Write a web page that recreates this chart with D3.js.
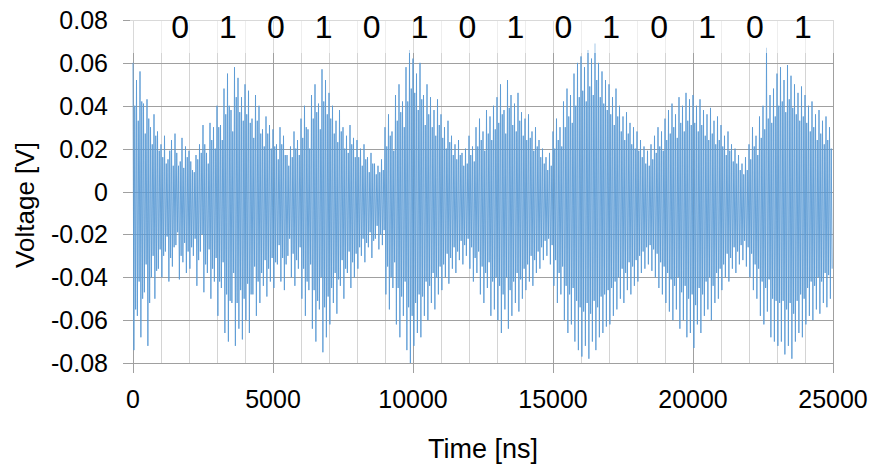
<!DOCTYPE html>
<html>
<head>
<meta charset="utf-8">
<script src="https://cdn.jsdelivr.net/npm/d3@7/dist/d3.min.js"></script>
<style>
  html, body { margin: 0; padding: 0; background: #fff; }
  svg { display: block; }
  text { font-family: "Liberation Sans", Arial, sans-serif; fill: #000; }
</style>
</head>
<body>
<svg id="chart" width="872" height="466"></svg>
<script>
// Received signal, per carrier cycle (V): a full swing (peak, trough)
// followed by a weaker swing (innerPeaks, innerTroughs)
const cycleNs = 125;
const peaks = [
  0.060, 0.052, 0.056, 0.041, 0.043, 0.030, 0.036, 0.028,
  0.022, 0.026, 0.015, 0.024, 0.027, 0.012, 0.025, 0.021,
  0.019, 0.010, 0.017, 0.022, 0.031, 0.018, 0.032, 0.030,
  0.040, 0.031, 0.048, 0.055, 0.038, 0.058, 0.053, 0.044,
  0.050, 0.047, 0.034, 0.045, 0.040, 0.029, 0.035, 0.031,
  0.029, 0.022, 0.030, 0.026, 0.017, 0.021, 0.028, 0.024,
  0.034, 0.040, 0.029, 0.045, 0.050, 0.041, 0.057, 0.052,
  0.046, 0.040, 0.033, 0.038, 0.030, 0.026, 0.031, 0.025,
  0.024, 0.020, 0.022, 0.016, 0.018, 0.013, 0.012, 0.015,
  0.030, 0.036, 0.028, 0.045, 0.050, 0.042, 0.058, 0.066,
  0.062, 0.055, 0.060, 0.045, 0.050, 0.044, 0.038, 0.043,
  0.036, 0.030, 0.033, 0.026, 0.022, 0.024, 0.018, 0.020,
  0.026, 0.021, 0.030, 0.034, 0.028, 0.038, 0.035, 0.040,
  0.044, 0.050, 0.038, 0.052, 0.045, 0.041, 0.046, 0.037,
  0.034, 0.036, 0.028, 0.030, 0.024, 0.020, 0.016, 0.018,
  0.028, 0.034, 0.030, 0.042, 0.048, 0.045, 0.055, 0.060,
  0.063, 0.058, 0.066, 0.062, 0.069, 0.060, 0.056, 0.052,
  0.050, 0.044, 0.048, 0.040, 0.035, 0.037, 0.032, 0.030,
  0.028, 0.024, 0.021, 0.019, 0.022, 0.026, 0.030, 0.028,
  0.034, 0.038, 0.041, 0.036, 0.044, 0.040, 0.046, 0.043,
  0.045, 0.040, 0.043, 0.038, 0.036, 0.039, 0.033, 0.035,
  0.031, 0.026, 0.028, 0.022, 0.020, 0.017, 0.013, 0.016,
  0.022, 0.030, 0.026, 0.035, 0.040, 0.067, 0.045, 0.048,
  0.055, 0.058, 0.052, 0.059, 0.054, 0.050, 0.046, 0.049,
  0.045, 0.040, 0.042, 0.036, 0.038, 0.033, 0.035, 0.030
];
const troughs = [
  -0.074, -0.058, -0.068, -0.047, -0.072, -0.040, -0.050, -0.036,
  -0.040, -0.028, -0.042, -0.035, -0.025, -0.041, -0.033, -0.038,
  -0.036, -0.030, -0.044, -0.028, -0.047, -0.038, -0.050, -0.042,
  -0.058, -0.045, -0.066, -0.070, -0.052, -0.072, -0.064, -0.069,
  -0.060, -0.066, -0.048, -0.058, -0.052, -0.044, -0.049, -0.042,
  -0.045, -0.034, -0.042, -0.046, -0.030, -0.040, -0.044, -0.036,
  -0.050, -0.058, -0.046, -0.064, -0.070, -0.055, -0.075, -0.068,
  -0.062, -0.052, -0.057, -0.044, -0.050, -0.038, -0.045, -0.040,
  -0.036, -0.030, -0.033, -0.026, -0.031, -0.022, -0.027, -0.025,
  -0.048, -0.055, -0.045, -0.062, -0.068, -0.058, -0.074, -0.080,
  -0.072, -0.066, -0.068, -0.058, -0.060, -0.052, -0.055, -0.048,
  -0.046, -0.040, -0.043, -0.036, -0.038, -0.032, -0.034, -0.030,
  -0.036, -0.042, -0.038, -0.048, -0.052, -0.045, -0.058, -0.055,
  -0.060, -0.066, -0.055, -0.064, -0.058, -0.052, -0.056, -0.050,
  -0.046, -0.042, -0.044, -0.038, -0.036, -0.032, -0.030, -0.034,
  -0.044, -0.052, -0.048, -0.060, -0.066, -0.062, -0.070, -0.074,
  -0.077, -0.072, -0.078, -0.070, -0.074, -0.068, -0.066, -0.063,
  -0.062, -0.058, -0.055, -0.050, -0.052, -0.046, -0.048, -0.044,
  -0.042, -0.038, -0.036, -0.034, -0.037, -0.040, -0.045, -0.048,
  -0.052, -0.056, -0.060, -0.055, -0.064, -0.060, -0.068, -0.066,
  -0.073, -0.062, -0.066, -0.058, -0.055, -0.060, -0.052, -0.050,
  -0.046, -0.040, -0.042, -0.036, -0.038, -0.034, -0.032, -0.035,
  -0.040, -0.046, -0.050, -0.058, -0.062, -0.056, -0.068, -0.070,
  -0.072, -0.070, -0.076, -0.072, -0.078, -0.070, -0.066, -0.068,
  -0.062, -0.058, -0.060, -0.055, -0.057, -0.052, -0.054, -0.050
];
const innerPeaks = [
  0.040, 0.033, 0.042, 0.027, 0.034, 0.022, 0.026, 0.019,
  0.016, 0.013, 0.019, 0.012, 0.018, 0.014, 0.011, 0.016,
  0.014, 0.009, 0.015, 0.018, 0.022, 0.013, 0.024, 0.020,
  0.030, 0.024, 0.036, 0.040, 0.028, 0.044, 0.037, 0.033,
  0.036, 0.032, 0.025, 0.033, 0.027, 0.021, 0.027, 0.020,
  0.021, 0.015, 0.022, 0.017, 0.012, 0.016, 0.020, 0.017,
  0.025, 0.030, 0.020, 0.034, 0.037, 0.029, 0.042, 0.036,
  0.034, 0.027, 0.023, 0.028, 0.020, 0.018, 0.022, 0.016,
  0.016, 0.012, 0.015, 0.009, 0.013, 0.008, 0.009, 0.010,
  0.021, 0.026, 0.019, 0.033, 0.037, 0.030, 0.042, 0.048,
  0.046, 0.038, 0.043, 0.031, 0.036, 0.030, 0.026, 0.031,
  0.025, 0.020, 0.023, 0.017, 0.015, 0.017, 0.012, 0.013,
  0.017, 0.014, 0.021, 0.024, 0.019, 0.027, 0.024, 0.029,
  0.032, 0.036, 0.027, 0.039, 0.031, 0.028, 0.033, 0.026,
  0.024, 0.025, 0.019, 0.021, 0.016, 0.013, 0.010, 0.012,
  0.020, 0.024, 0.021, 0.030, 0.035, 0.032, 0.040, 0.044,
  0.047, 0.042, 0.049, 0.045, 0.052, 0.044, 0.041, 0.038,
  0.036, 0.031, 0.035, 0.028, 0.024, 0.027, 0.022, 0.020,
  0.019, 0.016, 0.013, 0.012, 0.015, 0.018, 0.021, 0.019,
  0.024, 0.027, 0.030, 0.025, 0.032, 0.028, 0.033, 0.031,
  0.032, 0.028, 0.031, 0.026, 0.024, 0.027, 0.022, 0.024,
  0.021, 0.017, 0.019, 0.014, 0.013, 0.010, 0.008, 0.010,
  0.015, 0.021, 0.017, 0.025, 0.029, 0.034, 0.032, 0.035,
  0.040, 0.042, 0.037, 0.043, 0.039, 0.036, 0.033, 0.035,
  0.032, 0.028, 0.030, 0.024, 0.027, 0.022, 0.024, 0.020
];
const innerTroughs = [
  -0.055, -0.042, -0.050, -0.034, -0.052, -0.030, -0.037, -0.027,
  -0.030, -0.021, -0.031, -0.026, -0.019, -0.030, -0.024, -0.028,
  -0.026, -0.022, -0.032, -0.020, -0.034, -0.027, -0.036, -0.031,
  -0.042, -0.033, -0.048, -0.051, -0.038, -0.052, -0.046, -0.050,
  -0.043, -0.048, -0.035, -0.042, -0.038, -0.032, -0.036, -0.031,
  -0.033, -0.025, -0.031, -0.034, -0.022, -0.029, -0.032, -0.026,
  -0.036, -0.042, -0.034, -0.046, -0.051, -0.040, -0.054, -0.049,
  -0.045, -0.038, -0.041, -0.032, -0.036, -0.028, -0.033, -0.029,
  -0.026, -0.022, -0.024, -0.019, -0.023, -0.016, -0.020, -0.018,
  -0.035, -0.040, -0.033, -0.045, -0.049, -0.042, -0.054, -0.058,
  -0.052, -0.048, -0.049, -0.042, -0.044, -0.038, -0.040, -0.035,
  -0.034, -0.029, -0.031, -0.026, -0.028, -0.023, -0.025, -0.022,
  -0.026, -0.031, -0.028, -0.035, -0.038, -0.033, -0.042, -0.040,
  -0.044, -0.048, -0.040, -0.046, -0.042, -0.038, -0.041, -0.036,
  -0.034, -0.030, -0.032, -0.028, -0.026, -0.023, -0.022, -0.025,
  -0.032, -0.038, -0.035, -0.044, -0.048, -0.045, -0.051, -0.054,
  -0.056, -0.052, -0.057, -0.051, -0.054, -0.049, -0.048, -0.046,
  -0.045, -0.042, -0.040, -0.036, -0.038, -0.033, -0.035, -0.032,
  -0.030, -0.028, -0.026, -0.025, -0.027, -0.029, -0.033, -0.035,
  -0.038, -0.041, -0.044, -0.040, -0.047, -0.044, -0.050, -0.048,
  -0.053, -0.045, -0.048, -0.042, -0.040, -0.044, -0.038, -0.036,
  -0.034, -0.029, -0.031, -0.026, -0.028, -0.025, -0.023, -0.026,
  -0.029, -0.034, -0.036, -0.042, -0.045, -0.041, -0.050, -0.051,
  -0.052, -0.051, -0.055, -0.052, -0.057, -0.051, -0.048, -0.050,
  -0.045, -0.042, -0.044, -0.040, -0.042, -0.038, -0.039, -0.036
];

// Axis ticks
const xTicks = [0, 5000, 10000, 15000, 20000, 25000];
const xMinorTicks = d3.range(0, 25001, 1000);
const yTicks = [-0.08, -0.06, -0.04, -0.02, 0, 0.02, 0.04, 0.06, 0.08];
const yTickLabels = ["-0.08", "-0.06", "-0.04", "-0.02", "0", "0.02", "0.04", "0.06", "0.08"];

// Transmitted bit pattern written across the top
const bitLabels = ["0", "1", "0", "1", "0", "1", "0", "1", "0", "1", "0", "1", "0", "1"];
const bitStartNs = 1680;
const bitSpacingNs = 1711;

const svg = d3.select("#chart");
const plot = { left: 133, right: 833, top: 20, bottom: 363 };

const x = d3.scaleLinear().domain([0, 25000]).range([plot.left, plot.right]);
const y = d3.scaleLinear().domain([-0.08, 0.08]).range([plot.bottom, plot.top]);

// Minor vertical gridlines (every 1000 ns)
svg.append("g")
  .selectAll("line")
  .data(xMinorTicks.filter(t => t % 5000 !== 0))
  .join("line")
  .attr("x1", d => x(d) + 0.5).attr("x2", d => x(d) + 0.5)
  .attr("y1", plot.top).attr("y2", plot.bottom)
  .attr("stroke", "#d4d4d4").attr("stroke-width", 1);

// Major vertical gridlines with ticks below the axis
svg.append("g")
  .selectAll("line")
  .data(xTicks)
  .join("line")
  .attr("x1", d => x(d) + 0.5).attr("x2", d => x(d) + 0.5)
  .attr("y1", plot.top).attr("y2", plot.bottom + 10)
  .attr("stroke", "#a0a0a0").attr("stroke-width", 1);

// Horizontal gridlines, extended a little to the left as tick marks
svg.append("g")
  .selectAll("line")
  .data(yTicks)
  .join("line")
  .attr("x1", plot.left - 10).attr("x2", plot.right)
  .attr("y1", d => Math.round(y(d)) + 0.5).attr("y2", d => Math.round(y(d)) + 0.5)
  .attr("stroke", "#a0a0a0").attr("stroke-width", 1);

// Signal trace: four samples per carrier cycle
const samples = [];
peaks.forEach((p, i) => {
  const t0 = i * cycleNs;
  samples.push({ t: t0, v: p });
  samples.push({ t: t0 + cycleNs / 4, v: troughs[i] });
  samples.push({ t: t0 + cycleNs / 2, v: innerPeaks[i] });
  samples.push({ t: t0 + 3 * cycleNs / 4, v: innerTroughs[i] });
});

const line = d3.line().x(d => x(d.t)).y(d => y(d.v));
svg.append("path")
  .datum(samples)
  .attr("d", line)
  .attr("fill", "none")
  .attr("stroke", "#5b9bd5")
  .attr("stroke-width", 0.9)
  .attr("stroke-opacity", 1)
  .attr("stroke-linejoin", "miter");

// Translucent box behind the bit labels
svg.append("rect")
  .attr("x", plot.left - 3).attr("y", 14)
  .attr("width", plot.right - plot.left + 6).attr("height", 39)
  .attr("fill", "#fff").attr("fill-opacity", 0.6);

svg.append("g")
  .selectAll("text")
  .data(bitLabels)
  .join("text")
  .attr("x", (d, i) => x(bitStartNs + i * bitSpacingNs))
  .attr("y", 38)
  .attr("text-anchor", "middle")
  .style("font-size", "32px")
  .text(d => d);

// Y tick labels
svg.append("g")
  .selectAll("text")
  .data(yTicks)
  .join("text")
  .attr("x", 108)
  .attr("y", d => y(d) + 9)
  .attr("text-anchor", "end")
  .style("font-size", "25px")
  .text((d, i) => yTickLabels[i]);

// X tick labels
svg.append("g")
  .selectAll("text")
  .data(xTicks)
  .join("text")
  .attr("x", d => x(d))
  .attr("y", 408)
  .attr("text-anchor", "middle")
  .style("font-size", "25px")
  .text(d => d);

// Axis titles
svg.append("text")
  .attr("x", 483).attr("y", 458)
  .attr("text-anchor", "middle")
  .style("font-size", "27px")
  .text("Time [ns]");

svg.append("text")
  .attr("transform", "translate(34,205) rotate(-90)")
  .attr("text-anchor", "middle")
  .style("font-size", "26px")
  .text("Voltage [V]");
</script>
</body>
</html>
